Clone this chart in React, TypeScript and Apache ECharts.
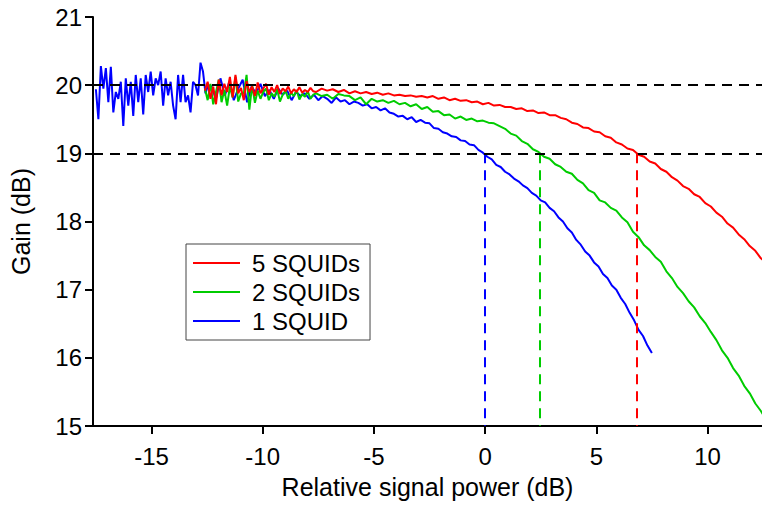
import React, { useEffect, useRef } from "react";
import * as echarts from "echarts";

// Sampling grids (dB) for the measured traces
const BLUE_NOISY_START = -17.5;
const BLUE_NOISY_STEP = 0.112;
const BLUE_START = -12.3;
const BLUE_STEP = 0.2;
const GR_NOISY_START = -12.6;
const GR_NOISY_STEP = 0.125;
const GR_START = -7.6;
const GR_STEP = 0.25;

// 1 SQUID — noisy low-power segment
const blueNoisy = [
  19.94, 19.5, 20.28, 19.95, 20.25, 19.75, 20.27, 19.6, 19.9, 19.8, 20.05, 19.4, 20.1, 19.7, 20.05, 19.55,
  20.15, 19.75, 20.1, 19.57, 20.15, 19.9, 20.2, 19.85, 20.1, 20.0, 20.2, 19.7, 20.1, 19.85, 20.05, 19.7,
  19.5, 20.15, 19.75, 20.15, 19.75, 19.85, 19.6, 20.05, 20.0, 19.85, 20.33, 20.2, 19.88, 20.0,
];
// 1 SQUID — rest of the trace
const blueMain = [
  19.98, 19.8, 20.1, 19.85, 20.05, 19.78, 19.95, 20.08, 19.75, 19.98, 19.88, 20.02, 19.84, 19.93, 19.8, 19.95,
  19.86, 19.92, 19.78, 19.9, 19.84, 19.88, 19.8, 19.86, 19.78, 19.84, 19.8, 19.74, 19.82, 19.76, 19.78, 19.72,
  19.76, 19.74, 19.7, 19.72, 19.66, 19.68, 19.63, 19.66, 19.6, 19.58, 19.54, 19.55,
  19.5, 19.53, 19.46, 19.49, 19.45, 19.44, 19.37, 19.36, 19.31, 19.29, 19.25, 19.24, 19.19, 19.18, 19.13, 19.12,
  19.05, 19.01, 18.95, 18.91, 18.83, 18.8, 18.73, 18.69, 18.63, 18.59, 18.53, 18.49, 18.42, 18.38, 18.31, 18.28,
  18.2, 18.15, 18.06, 18.0, 17.9, 17.84, 17.73, 17.66, 17.56, 17.5, 17.4, 17.34, 17.23, 17.17, 17.06, 17.0,
  16.88, 16.79, 16.66, 16.55, 16.41, 16.32, 16.18, 16.07,
];
// 2 SQUIDs — noisy segment
const greenNoisy = [
  19.95, 19.78, 20.02, 19.72, 19.9, 20.08, 19.75, 19.93, 19.7, 19.98, 19.82, 20.12, 19.76, 19.88, 19.88, 20.15,
  19.64, 20.0, 19.74, 19.92, 19.8, 19.9, 19.95, 19.78, 19.88, 19.83, 19.94, 19.76, 19.86, 19.92, 19.8, 19.89,
  19.84, 19.93, 19.79, 19.87, 19.83, 19.91, 19.8, 19.86,
];
// 2 SQUIDs — rest of the trace
const greenMain = [
  19.88, 19.84, 19.86, 19.8, 19.87, 19.85, 19.84, 19.78, 19.82, 19.72, 19.8, 19.76, 19.78, 19.74, 19.77, 19.72,
  19.74, 19.69, 19.72, 19.65, 19.68, 19.61, 19.62, 19.56, 19.57, 19.51, 19.54, 19.49, 19.51, 19.47, 19.48, 19.45,
  19.44, 19.4, 19.36, 19.29, 19.26, 19.18, 19.14, 19.06, 19.02, 18.95, 18.92, 18.84, 18.8, 18.73, 18.7, 18.61,
  18.56, 18.46, 18.42, 18.31, 18.28, 18.2, 18.16, 18.06, 17.99, 17.85, 17.77, 17.65, 17.58, 17.48, 17.41, 17.27,
  17.17, 17.04, 16.95, 16.83, 16.74, 16.61, 16.51, 16.38, 16.26, 16.11, 16.0, 15.85, 15.74, 15.59, 15.48, 15.33,
  15.22, 15.09,
];
// 5 SQUIDs — noisy segment
const redNoisy = [
  19.92, 20.05, 19.8, 19.98, 19.72, 20.08, 19.85, 20.02, 19.9, 20.12, 19.82, 20.15, 19.88, 19.96, 19.78, 20.06,
  19.9, 19.98, 19.84, 20.04, 19.88, 19.95, 20.02, 19.86, 19.97, 19.9, 20.0, 19.87, 19.95, 19.91, 19.98, 19.88,
  19.94, 19.9, 19.97, 19.89, 19.93, 19.9, 19.96, 19.91,
];
// 5 SQUIDs — rest of the trace
const redMain = [
  19.9, 19.95, 19.92, 19.94, 19.9, 19.93, 19.88, 19.91, 19.88, 19.9, 19.87, 19.89, 19.86, 19.88, 19.85, 19.86,
  19.84, 19.85, 19.83, 19.84, 19.82, 19.84, 19.8, 19.82, 19.78, 19.8, 19.77, 19.78, 19.75, 19.76, 19.72, 19.74,
  19.7, 19.71, 19.68, 19.68, 19.65, 19.66, 19.62, 19.63, 19.59, 19.6, 19.56, 19.56, 19.52, 19.5, 19.45, 19.43,
  19.38, 19.37, 19.32, 19.31, 19.25, 19.23, 19.16, 19.13, 19.07, 19.05, 18.98, 18.95, 18.88, 18.85, 18.77, 18.73,
  18.65, 18.6, 18.52, 18.48, 18.4, 18.36, 18.27, 18.22, 18.13, 18.07, 17.97, 17.91, 17.81, 17.74, 17.64, 17.57,
  17.46, 17.39,
];

const seriesNames = ["1 SQUID", "2 SQUIDs", "5 SQUIDs"];
const legendOrder = ["5 SQUIDs", "2 SQUIDs", "1 SQUID"];
const refGains = [20, 19];
const crossX = [0, 2.45, 6.8]; // 1 SQUID, 2 SQUIDs, 5 SQUIDs at 1 dB compression
const xTicks = [-15, -10, -5, 0, 5, 10];

const X_MIN = -17.63;
const X_MAX = 12.45;
const Y_MIN = 15;
const Y_MAX = 21;

const toPairs = (vals: number[], start: number, step: number) =>
  vals.map((y, i) => [start + i * step, y]);

export default function App() {
  const ref = useRef<HTMLDivElement>(null);
  useEffect(() => {
    if (!ref.current) return;
    const chart = echarts.init(ref.current, null, { renderer: "svg" });
    const font = "'Liberation Sans', Arial, sans-serif";
    const blueData = [
      ...toPairs(blueNoisy, BLUE_NOISY_START, BLUE_NOISY_STEP),
      ...toPairs(blueMain, BLUE_START, BLUE_STEP),
    ];
    const greenData = [
      ...toPairs(greenNoisy, GR_NOISY_START, GR_NOISY_STEP),
      ...toPairs(greenMain, GR_START, GR_STEP),
    ];
    const redData = [
      ...toPairs(redNoisy, GR_NOISY_START, GR_NOISY_STEP),
      ...toPairs(redMain, GR_START, GR_STEP),
    ];
    const colors = ["#0000ff", "#00cc00", "#ff0000"];
    const dash = [10, 7];
    const vLine = (i: number) => ({
      silent: true,
      symbol: "none",
      label: { show: false },
      lineStyle: { color: colors[i], type: dash, width: 2 },
      data: [[{ coord: [crossX[i], refGains[1]] }, { coord: [crossX[i], Y_MIN] }]],
    });
    chart.setOption({
      animation: false,
      textStyle: { fontFamily: font, color: "#000" },
      grid: { left: 93, right: 0, top: 17, bottom: 79, containLabel: false },
      legend: {
        data: legendOrder,
        orient: "vertical",
        left: 186,
        top: 244,
        padding: [7, 10, 7, 7],
        itemGap: 5,
        itemWidth: 47,
        itemHeight: 2,
        icon: "rect",
        borderColor: "#444",
        borderWidth: 1,
        textStyle: { fontSize: 24, color: "#000", fontFamily: font, padding: [0, 0, 0, 7] },
      },
      xAxis: {
        type: "value",
        min: X_MIN,
        max: X_MAX,
        name: "Relative signal power (dB)",
        nameLocation: "middle",
        nameGap: 48,
        nameTextStyle: { fontSize: 25, color: "#000", fontFamily: font },
        axisLine: { show: true, onZero: false, lineStyle: { color: "#000", width: 2 } },
        axisTick: { show: true, length: 8, lineStyle: { color: "#000", width: 2 }, customValues: xTicks },
        axisLabel: { fontSize: 24, color: "#000", margin: 18, customValues: xTicks, fontFamily: font },
        splitLine: { show: false },
      },
      yAxis: {
        type: "value",
        min: Y_MIN,
        max: Y_MAX,
        interval: 1,
        name: "Gain (dB)",
        nameLocation: "middle",
        nameGap: 60,
        nameTextStyle: { fontSize: 25, color: "#000", fontFamily: font },
        axisLine: { show: true, onZero: false, lineStyle: { color: "#000", width: 2 } },
        axisTick: { show: true, length: 8, lineStyle: { color: "#000", width: 2 } },
        axisLabel: { fontSize: 24, color: "#000", margin: 11, fontFamily: font },
        splitLine: { show: false },
      },
      series: [
        {
          name: seriesNames[0],
          type: "line",
          data: blueData,
          showSymbol: false,
          color: colors[0],
          lineStyle: { width: 2, color: colors[0] },
          markLine: vLine(0),
        },
        {
          name: seriesNames[1],
          type: "line",
          data: greenData,
          showSymbol: false,
          color: colors[1],
          lineStyle: { width: 2, color: colors[1] },
          markLine: vLine(1),
        },
        {
          name: seriesNames[2],
          type: "line",
          data: redData,
          showSymbol: false,
          color: colors[2],
          lineStyle: { width: 2, color: colors[2] },
          markLine: {
            silent: true,
            symbol: "none",
            label: { show: false },
            lineStyle: { color: "#000", type: dash, width: 2 },
            data: [
              ...refGains.map((g) => [{ coord: [X_MIN, g] }, { coord: [X_MAX, g] }]),
              [{ coord: [crossX[2], refGains[1]] }, { coord: [crossX[2], Y_MIN], lineStyle: { color: colors[2] } }],
            ],
          },
        },
      ],
    });
    return () => chart.dispose();
  }, []);
  return (
    <div
      ref={ref}
      style={{ position: "absolute", left: 0, top: 0, width: 762, height: 505, background: "#fff" }}
    />
  );
}
